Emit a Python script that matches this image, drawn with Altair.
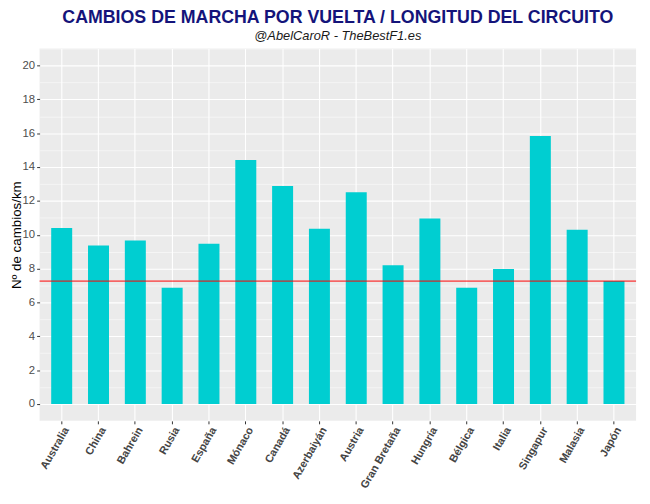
import altair as alt
import pandas as pd

circuits = ["Australia", "China", "Bahrein", "Rusia", "España", "Mónaco", "Canadá",
            "Azerbaiyán", "Austria", "Gran Bretaña", "Hungría", "Bélgica", "Italia",
            "Singapur", "Malasia", "Japón"]
changes_per_km = [10.40, 9.37, 9.66, 6.87, 9.47, 14.42, 12.88,
                  10.35, 12.51, 8.19, 10.96, 6.87, 7.97, 15.83, 10.30, 7.26]
reference_line = [7.26]
major_ticks = [0, 2, 4, 6, 8, 10, 12, 14, 16, 18, 20]
minor_ticks = [-1, 1, 3, 5, 7, 9, 11, 13, 15, 17, 19, 21]

df = pd.DataFrame({"circuito": circuits, "valor": changes_per_km})
ref = pd.DataFrame({"y": reference_line})

FONT = "Liberation Sans"
W, H = 604, 377

x_enc = alt.X(
    "circuito:N",
    sort=circuits,
    title=None,
    scale=alt.Scale(paddingInner=0.43, paddingOuter=0.315),
    axis=alt.Axis(
        labelAngle=-60, labelAlign="right", labelBaseline="top",
        labelFont=FONT, labelFontSize=11, labelFontWeight="bold",
        labelColor="#444444", labelPadding=1,
        tickColor="#333333", tickSize=3, domain=False,
        grid=True, gridColor="white", gridWidth=1.1,
    ),
)

y_scale = alt.Scale(domain=[-1, 21], nice=False, zero=False)

bars = alt.Chart(df).mark_bar(color="#00CED1").encode(
    x=x_enc,
    y=alt.Y(
        "valor:Q",
        scale=y_scale,
        title="Nº de cambios/km",
        axis=alt.Axis(
            values=major_ticks,
            labelFont=FONT, labelFontSize=11.5, labelColor="#4d4d4d",
            labelPadding=2,
            tickColor="#333333", tickSize=3,
            domain=False,
            grid=True, gridColor="white", gridWidth=1.1,
            titleFont=FONT, titleFontSize=13.5, titleFontWeight="normal",
            titleColor="black", titleX=-16, titleY=H / 2,
        ),
    ),
)

line = alt.Chart(ref).mark_rule(color="red", strokeWidth=1).encode(
    y=alt.Y(
        "y:Q",
        scale=y_scale,
        axis=alt.Axis(
            values=minor_ticks, orient="right",
            labels=False, ticks=False, domain=False, title=None,
            grid=True, gridColor="white", gridWidth=0.5,
        ),
    )
)

chart = (
    alt.layer(bars, line)
    .resolve_axis(y="independent")
    .properties(
        width=W,
        height=H,
        background="white",
        title=alt.TitleParams(
            text="CAMBIOS DE MARCHA POR VUELTA / LONGITUD DEL CIRCUITO",
            subtitle="@AbelCaroR - TheBestF1.es",
            anchor="middle",
            font=FONT, fontSize=18, fontWeight="bold", color="#14147a",
            subtitleFont=FONT, subtitleFontSize=13, subtitleFontStyle="italic",
            subtitleColor="#1a1a1a", subtitlePadding=3,
            offset=6,
        ),
        autosize=alt.AutoSizeParams(type="none"),
        padding={"left": 32, "top": 38, "right": 6, "bottom": 73},
    )
    .configure_view(fill="#EBEBEB", strokeWidth=0)
)

chart.save("out.html", embed_options={"renderer": "svg", "actions": False})
